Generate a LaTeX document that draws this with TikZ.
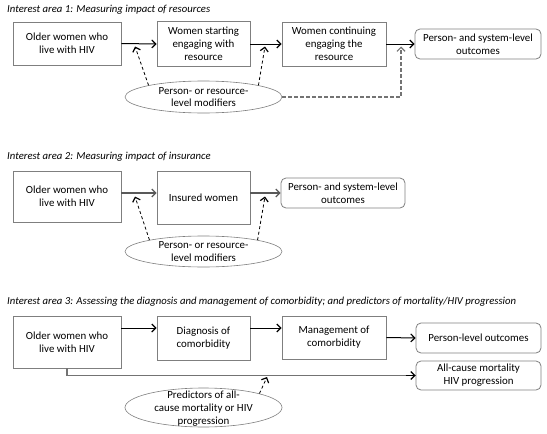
\documentclass[tikz,border=0pt]{standalone}
\usepackage{fontspec}
\setmainfont{Carlito}
\usetikzlibrary{arrows.meta,shapes.geometric}
\definecolor{edge}{HTML}{7F7F7F}
\definecolor{ink}{HTML}{000000}
\tikzset{
  every node/.style={text=ink, font=\fontsize{10.9}{12.8}\selectfont},
  sqbox/.style={draw=edge, line width=0.8pt, align=center, inner sep=0pt},
  rbox/.style={draw=edge, line width=0.8pt, rounded corners=5pt, align=center, inner sep=0pt},
  oval/.style={ellipse, draw=edge, line width=0.6pt, inner sep=0pt, minimum width=157pt, align=center},
  titletext/.style={anchor=west, inner sep=0pt, font=\fontsize{10.7}{12}\selectfont\itshape},
  arr/.style={-{Straight Barb[length=4pt,width=8pt,line width=1.2pt]}, line width=1pt, black},
  garr/.style={-{Straight Barb[length=4pt,width=8pt,line width=1.2pt]}, line width=1.3pt, black!65},
  darr/.style={-{Straight Barb[length=4pt,width=8pt,line width=1.2pt]}, line width=0.8pt, black, dash pattern=on 3pt off 2.5pt},
  gdarr/.style={-{Straight Barb[length=4pt,width=8pt,line width=1.2pt]}, line width=1.2pt, black!55, dash pattern=on 3.5pt off 2.5pt},
}
\begin{document}
\begin{tikzpicture}[x=1pt,y=-1pt]
\useasboundingbox (0,0) rectangle (547,434);
% ---------- Interest area 1
\node[titletext] (T1) at (7,10) {Interest area 1: Measuring impact of resources};
\node[sqbox, minimum width=108pt, minimum height=43pt] (A1) at (67,43.5) {Older women who\\live with HIV};
\node[sqbox, minimum width=93pt, minimum height=45pt] (B1) at (203.5,44) {Women starting\\engaging with\\resource};
\node[sqbox, minimum width=104pt, minimum height=44pt] (C1) at (334,44) {Women continuing\\engaging the\\resource};
\node[rbox, minimum width=126pt, minimum height=30pt] (D1) at (478,44) {Person- and system-level\\outcomes};
\node[oval, minimum height=32pt] (E1) at (203.5,97) {};
\node[align=center, inner sep=0pt] (E1t) at (203.5,97) {Person- or resource-\\level modifiers};
\draw[arr] (A1.east) -- (B1.west);
\draw[arr] (B1.east) -- (C1.west);
\draw[arr] (C1.east) -- (D1.west);
\coordinate (m11) at (135,46.5);
\coordinate (m12) at (265,46.5);
\coordinate (m13) at (401,46.5);
\draw[darr] (E1.168) -- (m11);
\draw[darr] (E1.12) -- (m12);
\draw[gdarr] (E1.east) -| (m13);
% ---------- Interest area 2
\node[titletext] (T2) at (7,157) {Interest area 2: Measuring impact of insurance};
\node[sqbox, minimum width=108pt, minimum height=51pt] (A2) at (67,196.5) {Older women who\\live with HIV};
\node[sqbox, minimum width=93pt, minimum height=53pt] (B2) at (203.5,197.5) {Insured women};
\node[rbox, minimum width=124pt, minimum height=30pt] (D2) at (343,193) {Person- and system-level\\outcomes};
\node[oval, minimum height=31pt] (E2) at (203.5,251.5) {};
\node[align=center, inner sep=0pt] (E2t) at (203.5,251.5) {Person- or resource-\\level modifiers};
\draw[garr] (A2.east |- D2.west) -- (B2.west |- D2.west);
\draw[garr] (B2.east |- D2.west) -- (D2.west);
\coordinate (m21) at (135,196.5);
\coordinate (m22) at (265,196.5);
\draw[darr] (E2.168) -- (m21);
\draw[darr] (E2.12) -- (m22);
% ---------- Interest area 3
\node[titletext] (T3) at (7,302) {Interest area 3: Assessing the diagnosis and management of comorbidity; and predictors of mortality/HIV progression};
\node[sqbox, minimum width=108pt, minimum height=52pt] (A3) at (67,342) {Older women who\\live with HIV};
\node[sqbox, minimum width=93pt, minimum height=44pt] (B3) at (203.5,338) {Diagnosis of\\comorbidity};
\node[sqbox, minimum width=104pt, minimum height=43pt] (C3) at (334,337.5) {Management of\\comorbidity};
\node[rbox, minimum width=125pt, minimum height=30pt] (D3) at (478.5,338) {Person-level outcomes};
\node[rbox, minimum width=125pt, minimum height=29pt] (D4) at (478.5,375.5) {All-cause mortality\\HIV progression};
\node[oval, minimum height=39pt] (E3) at (203.5,407.5) {};
\node[align=center, inner sep=0pt] (E3t) at (203.5,408.5) {Predictors of all-\\cause mortality or HIV\\progression};
\coordinate (a31) at (121,328);
\coordinate (b31) at (157,328);
\coordinate (b32) at (250,328);
\coordinate (c31) at (282,328);
\draw[arr] (A3.east |- a31) -- (B3.west |- b31);
\draw[arr] (B3.east |- b32) -- (C3.west |- c31);
\draw[arr] (C3.east) -- (D3.west);
\draw[line width=1.3pt, black!55] (A3.south) |- (D4.west);
\draw[arr, shorten <=20pt] (D4.west) ++(-30,0) -- (D4.west);
\coordinate (m31) at (267,377);
\draw[darr] (E3.14) -- (m31);
\end{tikzpicture}
\end{document}
